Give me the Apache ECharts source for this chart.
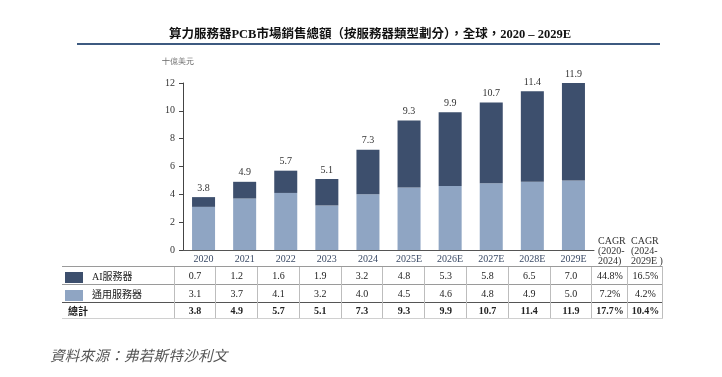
<!DOCTYPE html>
<html lang="zh-Hant">
<head>
    <meta charset="UTF-8">
    <title>算力服務器PCB市場銷售總額</title>
    <script src="https://cdn.jsdelivr.net/npm/echarts@6/dist/echarts.min.js"></script>
</head>
<style>
html,body{margin:0;padding:0;background-color:#fff}
#wrap{position:relative;width:722px;height:377px;overflow:hidden}
#chartBox{position:absolute;left:0;top:0;width:722px;height:377px}
#tbl{position:absolute;left:62px;top:266px;border-collapse:collapse;table-layout:fixed;
     font-family:"Liberation Serif","Noto Sans CJK TC",serif;font-size:10px;color:#222}
#tbl td{padding:0;text-align:center;border-left:1px solid #bdbdbd;border-top:1px solid #9a9a9a}
#tbl td.lab{border-left:none;text-align:left}
#tbl tr.total td{border-top:1px solid #555;border-bottom:1px solid #d0d0d0;font-weight:bold}
#tbl td.end{border-right:1px solid #bdbdbd}
.sw{display:inline-block;width:18px;height:11px;vertical-align:middle;margin:0 9px 0 3px}
.cagr{position:absolute;top:236px;font-family:"Liberation Serif",serif;font-size:10px;color:#333;line-height:10px;text-align:left}
#src{position:absolute;left:50px;top:344px;font-family:"Noto Sans CJK TC",sans-serif;font-size:14.5px;color:#555;font-style:italic;letter-spacing:0.3px}
</style>
<body>
<div id="wrap">
    <div id="chartBox"></div>
    <div class="cagr" style="left:598px">CAGR<br>(2020-<br>2024)</div>
    <div class="cagr" style="left:631px">CAGR<br>(2024-<br>2029E )</div>
    <table id="tbl"></table>
    <div id="src">資料來源：弗若斯特沙利文</div>
</div>
</body>
<script>
// 数据
const years = ['2020','2021','2022','2023','2024','2025E','2026E','2027E','2028E','2029E'];
const aiServer = [0.7, 1.2, 1.6, 1.9, 3.2, 4.8, 5.3, 5.8, 6.5, 7.0];
const generalServer = [3.1, 3.7, 4.1, 3.2, 4.0, 4.5, 4.6, 4.8, 4.9, 5.0];
const totals = [3.8, 4.9, 5.7, 5.1, 7.3, 9.3, 9.9, 10.7, 11.4, 11.9];
const cagrAI = ['44.8%', '16.5%'];
const cagrGeneral = ['7.2%', '4.2%'];
const cagrTotal = ['17.7%', '10.4%'];
const yTicks = [0, 2, 4, 6, 8, 10, 12];

const darkColor = '#3d4f6d';
const lightColor = '#8fa5c3';
const serif = '"Liberation Serif","Noto Sans CJK TC",serif';

// 表格
function buildTable() {
    const rows = [
        {name: 'AI服務器', color: darkColor, vals: aiServer.map(v => v.toFixed(1)), cagr: cagrAI, h: 18},
        {name: '通用服務器', color: lightColor, vals: generalServer.map(v => v.toFixed(1)), cagr: cagrGeneral, h: 18},
        {name: '總計', color: null, vals: totals.map(v => v.toFixed(1)), cagr: cagrTotal, h: 15, cls: 'total'}
    ];
    let html = '<colgroup><col style="width:112px">';
    years.forEach(() => { html += '<col style="width:41.8px">'; });
    html += '<col style="width:36px"><col style="width:35px"></colgroup>';
    rows.forEach(r => {
        html += '<tr class="' + (r.cls || '') + '" style="height:' + r.h + 'px">';
        if (r.color) {
            html += '<td class="lab"><span class="sw" style="background:' + r.color + '"></span>' + r.name + '</td>';
        } else {
            html += '<td class="lab" style="padding-left:6px">' + r.name + '</td>';
        }
        r.vals.forEach(v => { html += '<td>' + v + '</td>'; });
        html += '<td>' + r.cagr[0] + '</td><td class="end">' + r.cagr[1] + '</td></tr>';
    });
    document.getElementById('tbl').innerHTML = html;
}

function generateChartOption() {
    return {
        animation: false,
        title: {
            text: '算力服務器PCB市場銷售總額（按服務器類型劃分），全球，2020 – 2029E',
            left: 365,
            textAlign: 'center',
            top: 24,
            textStyle: {fontSize: 12.5, fontWeight: 'bold', color: '#111', fontFamily: serif}
        },
        graphic: [{
            type: 'line',
            shape: {x1: 77, y1: 44, x2: 660, y2: 44},
            style: {stroke: '#3d5a80', lineWidth: 2}
        }],
        grid: {left: 183, right: 128, top: 83, bottom: 127},
        xAxis: {
            type: 'category',
            data: years,
            axisLine: {lineStyle: {color: '#555'}},
            axisTick: {show: false},
            axisLabel: {fontSize: 10, color: '#3a4a66', fontFamily: serif, margin: 4}
        },
        yAxis: {
            type: 'value',
            min: 0, max: 12, interval: 2,
            name: '十億美元',
            nameGap: 17,
            nameTextStyle: {fontSize: 8, color: '#666', align: 'center', padding: [0, 10, 0, 0]},
            axisLine: {show: true, lineStyle: {color: '#444'}},
            axisTick: {show: true, length: 4, lineStyle: {color: '#444'}},
            splitLine: {show: false},
            axisLabel: {fontSize: 10, color: '#333', fontFamily: serif, margin: 8,
                formatter: v => yTicks.indexOf(v) >= 0 ? String(v) : ''}
        },
        series: [
            {
                type: 'bar', name: '通用服務器', stack: 'total',
                data: generalServer, barWidth: '56%',
                itemStyle: {color: lightColor}
            },
            {
                type: 'bar', name: 'AI服務器', stack: 'total',
                data: aiServer, barWidth: '56%',
                itemStyle: {color: darkColor},
                label: {
                    show: true, position: 'top', distance: 4,
                    fontSize: 10, color: '#333', fontFamily: serif,
                    formatter: p => totals[p.dataIndex].toFixed(1)
                }
            }
        ]
    };
}

buildTable();
const chartObj = echarts.init(document.getElementById('chartBox'));
chartObj.setOption(generateChartOption());
</script>
</html>
